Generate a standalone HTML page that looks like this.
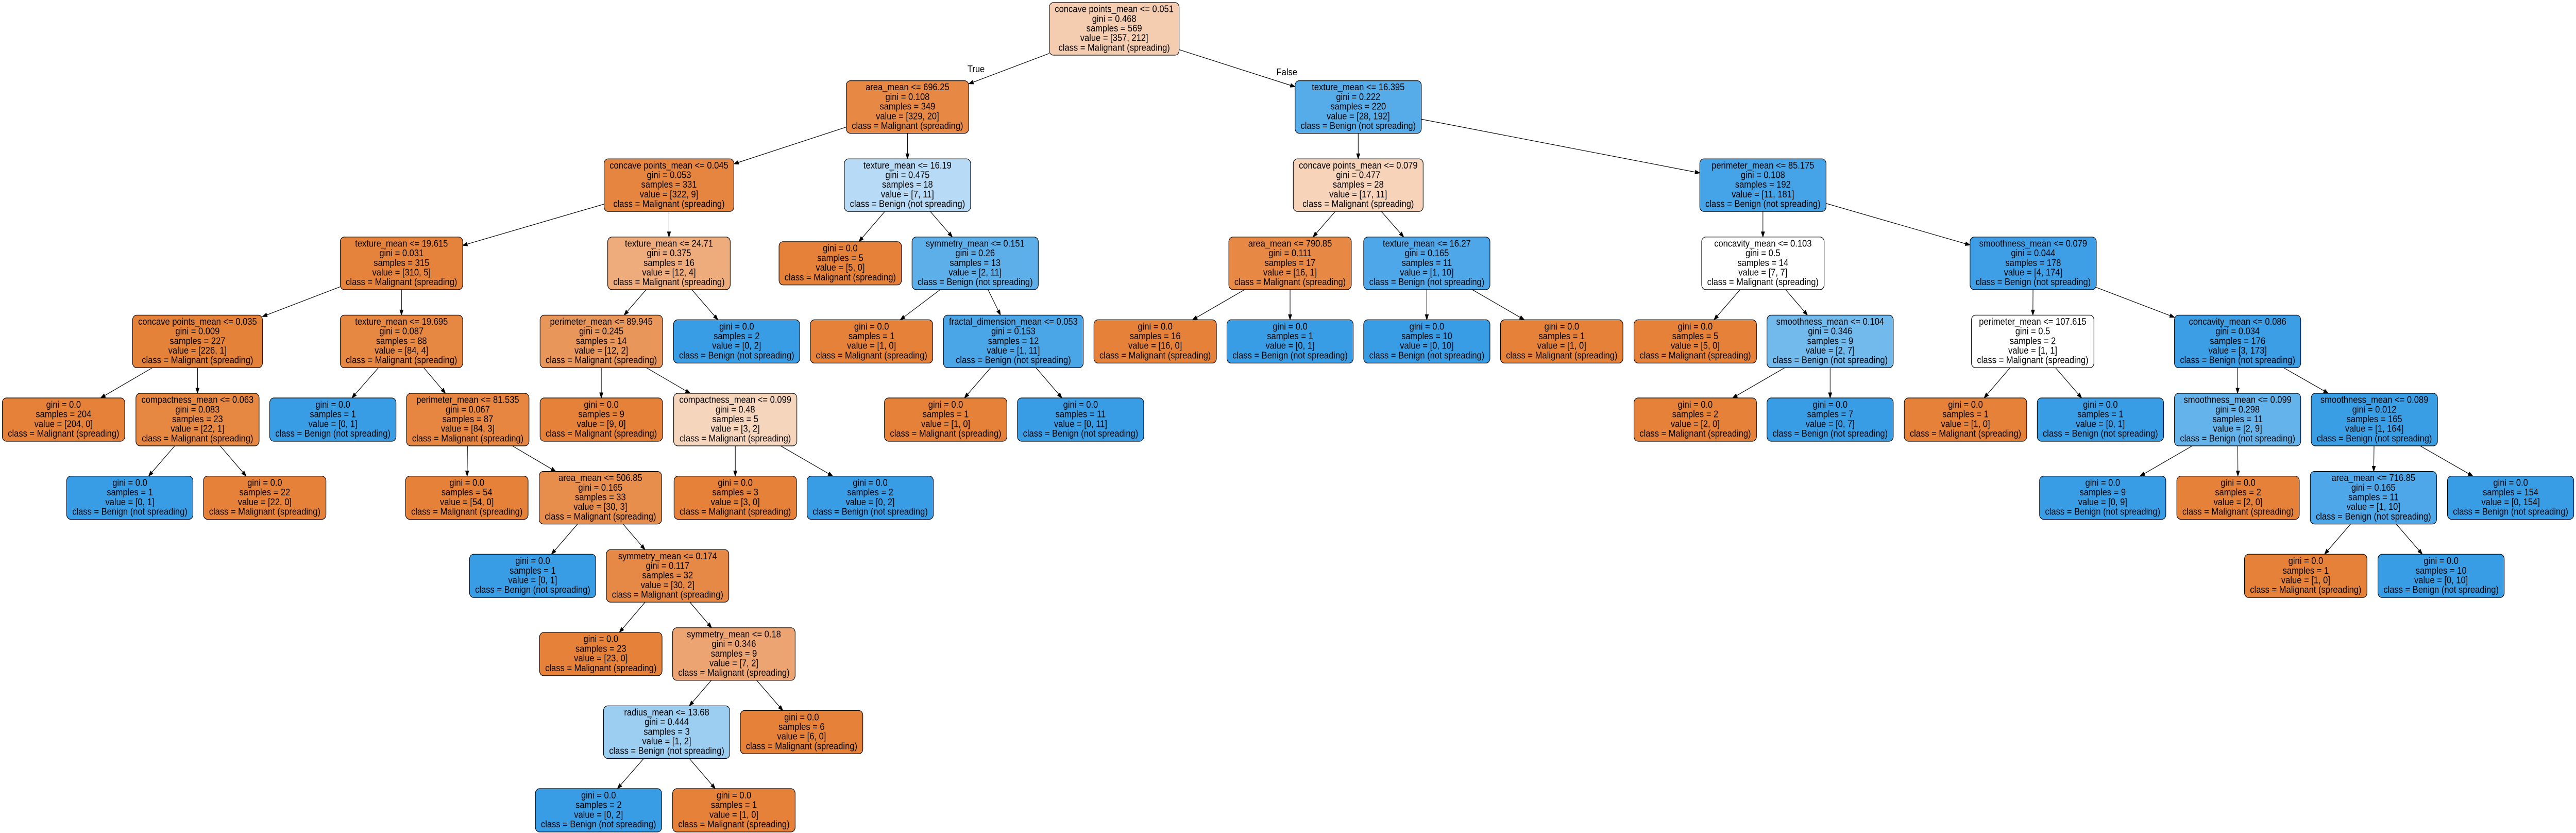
<!DOCTYPE html>
<html><head><meta charset="utf-8">
<style>
html,body{margin:0;padding:0;background:#fff;width:100%;height:100%;overflow:hidden}
svg{display:block;width:100vw;height:100vh}
svg text{font-family:"Liberation Sans",Arial,Helvetica,sans-serif;font-size:18.5px;fill:#000}
</style></head>
<body>
<svg id="s" xmlns="http://www.w3.org/2000/svg" viewBox="0 0 5595 1616" preserveAspectRatio="none">
<rect width="5595" height="1616" fill="#fff"/>
<g id="edges"></g><g id="nodes"></g>
<text x="2120" y="140" text-anchor="middle">True</text>
<text x="2795" y="146" text-anchor="middle">False</text>
</svg>
<script>
var L=null;
var D=[
[0,-1,0,2420,"concave points_mean <= 0.051","0.468",569,357,212],
[1,0,1,1971,"area_mean <= 696.25","0.108",349,329,20],
[2,0,1,2950,"texture_mean <= 16.395","0.222",220,28,192],
[3,1,2,1453,"concave points_mean <= 0.045","0.053",331,322,9],
[4,1,2,1971,"texture_mean <= 16.19","0.475",18,7,11],
[5,2,2,2950,"concave points_mean <= 0.079","0.477",28,17,11],
[6,2,2,3829,"perimeter_mean <= 85.175","0.108",192,11,181],
[7,3,3,872,"texture_mean <= 19.615","0.031",315,310,5],
[8,3,3,1453,"texture_mean <= 24.71","0.375",16,12,4],
[9,4,3,1825,L,"0.0",5,5,0],
[10,4,3,2118,"symmetry_mean <= 0.151","0.26",13,2,11],
[11,5,3,2802,"area_mean <= 790.85","0.111",17,16,1],
[12,5,3,3099,"texture_mean <= 16.27","0.165",11,1,10],
[13,6,3,3829,"concavity_mean <= 0.103","0.5",14,7,7],
[14,6,3,4416,"smoothness_mean <= 0.079","0.044",178,4,174],
[15,7,4,429,"concave points_mean <= 0.035","0.009",227,226,1],
[16,7,4,872,"texture_mean <= 19.695","0.087",88,84,4],
[17,8,4,1306,"perimeter_mean <= 89.945","0.245",14,12,2],
[18,8,4,1600,L,"0.0",2,0,2],
[19,10,4,1893,L,"0.0",1,1,0],
[20,10,4,2201,"fractal_dimension_mean <= 0.053","0.153",12,1,11],
[21,11,4,2509,L,"0.0",16,16,0],
[22,11,4,2802,L,"0.0",1,0,1],
[23,12,4,3099,L,"0.0",10,0,10],
[24,12,4,3392,L,"0.0",1,1,0],
[25,13,4,3682,L,"0.0",5,5,0],
[26,13,4,3975,"smoothness_mean <= 0.104","0.346",9,2,7],
[27,14,4,4415,"perimeter_mean <= 107.615","0.5",2,1,1],
[28,14,4,4860,"concavity_mean <= 0.086","0.034",176,3,173],
[29,15,5,138,L,"0.0",204,204,0],
[30,15,5,429,"compactness_mean <= 0.063","0.083",23,22,1],
[31,16,5,723,L,"0.0",1,0,1],
[32,16,5,1016,"perimeter_mean <= 81.535","0.067",87,84,3],
[33,17,5,1306,L,"0.0",9,9,0],
[34,17,5,1597,"compactness_mean <= 0.099","0.48",5,3,2],
[35,20,5,2054,L,"0.0",1,1,0],
[36,20,5,2347,L,"0.0",11,0,11],
[37,26,5,3682,L,"0.0",2,2,0],
[38,26,5,3975,L,"0.0",7,0,7],
[39,27,5,4269,L,"0.0",1,1,0],
[40,27,5,4562,L,"0.0",1,0,1],
[41,28,5,4860,"smoothness_mean <= 0.099","0.298",11,2,9],
[42,28,5,5157,"smoothness_mean <= 0.089","0.012",165,1,164],
[43,30,6,282,L,"0.0",1,0,1],
[44,30,6,575,L,"0.0",22,22,0],
[45,32,6,1014,L,"0.0",54,54,0],
[46,32,6,1304,"area_mean <= 506.85","0.165",33,30,3],
[47,34,6,1597,L,"0.0",3,3,0],
[48,34,6,1890,L,"0.0",2,0,2],
[49,41,6,4567,L,"0.0",9,0,9],
[50,41,6,4861,L,"0.0",2,2,0],
[51,42,6,5155,"area_mean <= 716.85","0.165",11,1,10],
[52,42,6,5453,L,"0.0",154,0,154],
[53,46,7,1157,L,"0.0",1,0,1],
[54,46,7,1450,"symmetry_mean <= 0.174","0.117",32,30,2],
[55,51,7,5008,L,"0.0",1,1,0],
[56,51,7,5302,L,"0.0",10,0,10],
[57,54,8,1305,L,"0.0",23,23,0],
[58,54,8,1594,"symmetry_mean <= 0.18","0.346",9,7,2],
[59,58,9,1448,"radius_mean <= 13.68","0.444",3,1,2],
[60,58,9,1741,L,"0.0",6,6,0],
[61,59,10,1300,L,"0.0",2,0,2],
[62,59,10,1594,L,"0.0",1,1,0]
];
var NS="http://www.w3.org/2000/svg";
var gN=document.getElementById("nodes"),gE=document.getElementById("edges");
function el(t,a,p){var e=document.createElementNS(NS,t);for(var k in a)e.setAttribute(k,a[k]);if(p)p.appendChild(e);return e;}
var box={};
D.forEach(function(d){
  var a=d[7],b=d[8],n=a+b,pa=a/n,pb=b/n,pmax=Math.max(pa,pb),pmin=Math.min(pa,pb);
  var al=(pmax-pmin)/(1-pmin);
  var c=(a>=b)?[229,129,57]:[57,157,229];
  var col="rgb("+c.map(function(v){return Math.round(al*v+(1-al)*255)}).join(",")+")";
  var lines=[];
  if(d[4])lines.push(d[4]);
  lines.push("gini = "+d[5]);lines.push("samples = "+d[6]);
  lines.push("value = ["+a+", "+b+"]");
  lines.push("class = "+(a>=b?"Malignant (spreading)":"Benign (not spreading)"));
  var cy=56+151.6*d[2];
  var h=lines.length==5?102:84;
  var g=el("g",{},gN);
  var r=el("rect",{y:cy-h/2,height:h,rx:9,ry:9,fill:col,stroke:"#000","stroke-width":1.2},g);
  var mw=0,y0=cy-lines.length*18.7/2+14.3;
  lines.forEach(function(t,i){
    var tx=el("text",{x:d[3],y:(y0+i*18.7).toFixed(1),"text-anchor":"middle"},g);
    tx.textContent=t;
    var w=0;try{w=tx.getComputedTextLength();}catch(e){w=t.length*9.3;}
    if(!w)w=t.length*9.3;
    if(w>mw)mw=w;
  });
  var w=Math.min(mw+24,310);
  var x=d[3]-w/2; if(x+w>5593)x=5593-w; if(x<1)x=1;
  r.setAttribute("x",x);r.setAttribute("width",w);
  box[d[0]]={cx:x+w/2,cy:cy,hw:w/2,hh:h/2};
});
function clip(b,dx,dy){
  var tx=dx!==0?b.hw/Math.abs(dx):1e9,ty=dy!==0?b.hh/Math.abs(dy):1e9;
  return Math.min(tx,ty);
}
D.forEach(function(d){
  if(d[1]<0)return;
  var p=box[d[1]],c=box[d[0]];
  var dx=c.cx-p.cx,dy=c.cy-p.cy,len=Math.sqrt(dx*dx+dy*dy);
  var t1=clip(p,dx,dy),t2=1-clip(c,dx,dy);
  var x1=p.cx+dx*t1,y1=p.cy+dy*t1,x2=p.cx+dx*t2,y2=p.cy+dy*t2;
  var ux=dx/len,uy=dy/len,al=10,aw=3.6;
  var bx=x2-ux*al,by=y2-uy*al;
  el("line",{x1:x1,y1:y1,x2:bx,y2:by,stroke:"#000","stroke-width":1.2},gE);
  el("polygon",{points:x2+","+y2+" "+(bx-uy*aw)+","+(by+ux*aw)+" "+(bx+uy*aw)+","+(by-ux*aw),fill:"#000",stroke:"#000","stroke-width":1},gE);
});
</script>
</body></html>
